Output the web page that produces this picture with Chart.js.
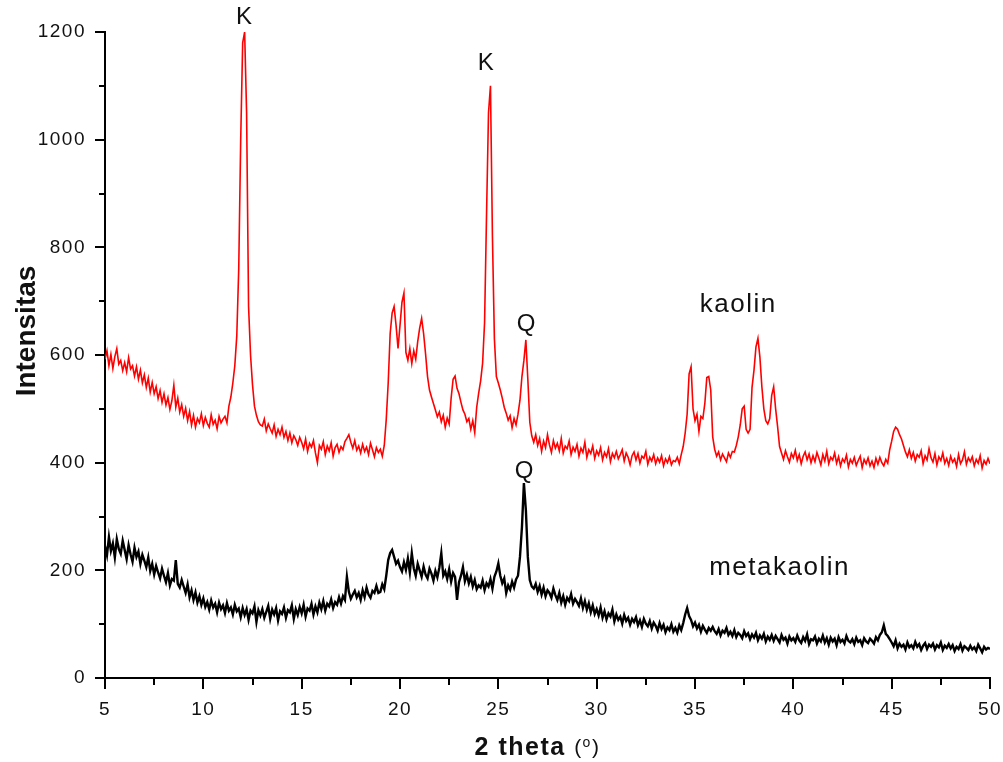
<!DOCTYPE html>
<html>
<head>
<meta charset="utf-8">
<script src="https://cdn.jsdelivr.net/npm/chart.js@4.4.1/dist/chart.umd.min.js"></script>
<style>
  html, body { margin: 0; padding: 0; background: #fff; }
  #wrap { width: 1003px; height: 762px; }
</style>
</head>
<body>
<div id="wrap"><canvas id="xrd" width="1003" height="762"></canvas></div>
<script>
// --- DATA ---
// sampling grid of the scan (2 theta, degrees)
const THETA_START = 5;
const THETA_STEP = 0.1;

// kaolin intensities, one row per degree (x.0 .. x.9)
const kaolin = [
  592, 608, 580, 601, 575, 597, 612, 583, 590, 571, // 5
  586, 569, 595, 574, 580, 561, 578, 555, 572, 548, // 6
  563, 540, 557, 531, 549, 528, 541, 519, 534, 512, // 7
  528, 507, 521, 499, 515, 544, 503, 520, 494, 508, // 8
  486, 501, 478, 495, 470, 488, 466, 482, 474, 491, // 9
  469, 484, 473, 466, 489, 471, 479, 463, 486, 474, // 10
  481, 486, 474, 505, 522, 548, 580, 635, 760, 1000, // 11
  1180, 1200, 1050, 690, 600, 545, 505, 488, 476, 470, // 12
  468, 481, 459, 472, 463, 455, 470, 449, 462, 452, // 13
  466, 447, 458, 441, 455, 437, 450, 443, 432, 447, // 14
  438, 426, 444, 421, 436, 429, 441, 418, 400, 432, // 15
  425, 439, 415, 431, 422, 437, 412, 428, 434, 419, // 16
  430, 424, 439, 445, 452, 438, 427, 441, 423, 431, // 17
  418, 434, 421, 429, 415, 436, 424, 411, 428, 419, // 18
  425, 412, 432, 480, 548, 640, 678, 690, 655, 612, // 19
  655, 698, 715, 605, 590, 612, 584, 608, 592, 625, // 20
  650, 668, 640, 602, 560, 535, 522, 510, 498, 485, // 21
  494, 476, 488, 466, 483, 472, 520, 555, 561, 538, // 22
  528, 512, 498, 490, 476, 482, 462, 478, 456, 503, // 23
  529, 552, 585, 660, 860, 1050, 1100, 820, 630, 560, // 24
  548, 535, 520, 503, 492, 479, 487, 465, 482, 470, // 25
  490, 516, 560, 590, 628, 555, 475, 450, 438, 452, // 26
  432, 445, 421, 440, 428, 452, 433, 419, 441, 427, // 27
  436, 422, 445, 418, 431, 426, 440, 415, 429, 421, // 28
  434, 412, 427, 419, 438, 410, 424, 417, 431, 408, // 29
  422, 414, 428, 405, 419, 411, 426, 402, 417, 409, // 30
  421, 407, 415, 424, 403, 418, 410, 396, 413, 420, // 31
  405, 417, 399, 412, 408, 421, 397, 410, 403, 415, // 32
  398, 409, 401, 413, 394, 407, 400, 411, 396, 404, // 33
  402, 410, 398, 415, 430, 455, 490, 565, 578, 500, // 34
  478, 490, 458, 486, 482, 510, 558, 560, 535, 448, // 35
  425, 412, 420, 405, 416, 409, 402, 418, 410, 421, // 36
  420, 432, 448, 470, 500, 505, 462, 455, 462, 540, // 37
  572, 615, 631, 596, 541, 500, 478, 472, 482, 525, // 38
  541, 500, 467, 430, 418, 406, 422, 411, 401, 417, // 39
  409, 423, 404, 415, 398, 412, 420, 405, 416, 400, // 40
  413, 402, 419, 408, 396, 415, 403, 421, 398, 410, // 41
  405, 418, 399, 411, 394, 407, 401, 414, 392, 406, // 42
  399, 410, 395, 404, 412, 391, 406, 398, 409, 394, // 43
  403, 391, 408, 397, 410, 400, 394, 406, 399, 424, // 44
  440, 458, 466, 462, 452, 444, 432, 420, 411, 424, // 45
  408, 419, 403, 415, 410, 422, 398, 413, 405, 426, // 46
  409, 401, 417, 396, 411, 404, 418, 399, 408, 395, // 47
  412, 401, 407, 393, 415, 398, 405, 420, 397, 409, // 48
  402, 411, 394, 406, 399, 413, 390, 404, 397, 408, // 49
  398                                               // 50
];

// metakaolin intensities, same grid
const metakaolin = [
  245, 228, 262, 236, 250, 224, 258, 240, 231, 255, // 5
  238, 221, 247, 230, 216, 242, 225, 235, 212, 229, // 6
  218, 206, 224, 199, 212, 192, 208, 196, 185, 203, // 7
  190, 178, 195, 172, 184, 181, 219, 175, 168, 182, // 8
  170, 158, 174, 150, 163, 145, 159, 140, 152, 136, // 9
  148, 132, 141, 127, 144, 131, 138, 122, 140, 128, // 10
  135, 121, 139, 125, 131, 118, 136, 124, 129, 113, // 11
  130, 117, 128, 108, 125, 120, 133, 104, 126, 116, // 12
  128, 112, 123, 134, 110, 127, 118, 130, 107, 124, // 13
  119, 131, 112, 126, 122, 135, 110, 128, 117, 132, // 14
  120, 136, 114, 129, 125, 138, 118, 133, 122, 140, // 15
  128, 143, 125, 138, 133, 146, 130, 141, 136, 150, // 16
  138, 152, 145, 188, 160, 147, 155, 162, 150, 158, // 17
  145, 163, 150, 168, 155, 149, 162, 158, 171, 158, // 18
  160, 174, 165, 190, 219, 232, 238, 225, 212, 218, // 19
  206, 198, 215, 201, 222, 196, 232, 204, 190, 212, // 20
  200, 188, 207, 192, 185, 203, 194, 181, 199, 187, // 21
  205, 232, 190, 198, 184, 202, 179, 195, 188, 145, // 22
  178, 190, 206, 180, 192, 176, 188, 170, 182, 165, // 23
  172, 168, 181, 163, 176, 170, 184, 166, 188, 198, // 24
  213, 190, 176, 185, 158, 172, 164, 179, 168, 183, // 25
  190, 225, 280, 362, 312, 225, 182, 170, 166, 175, // 26
  160, 171, 155, 168, 152, 163, 158, 149, 166, 154, // 27
  145, 158, 140, 152, 136, 149, 143, 156, 138, 147, // 28
  141, 134, 148, 130, 143, 127, 139, 122, 135, 119, // 29
  128, 116, 131, 112, 124, 109, 120, 114, 127, 105, // 30
  118, 108, 114, 101, 117, 106, 112, 99, 110, 104,  // 31
  113, 98, 107, 95, 110, 101, 96, 106, 92, 103,     // 32
  97, 88, 102, 91, 99, 85, 94, 89, 100, 86,         // 33
  93, 84, 98, 89, 102, 118, 130, 115, 108, 96,      // 34
  103, 92, 99, 86, 97, 90, 84, 93, 88, 95,          // 35
  87, 82, 91, 79, 88, 84, 93, 80, 86, 78,           // 36
  89, 76, 84, 80, 74, 87, 78, 83, 72, 81,           // 37
  75, 84, 70, 79, 73, 82, 68, 77, 71, 80,           // 38
  69, 78, 72, 66, 80, 71, 75, 64, 77, 70,           // 39
  74, 67, 79, 70, 65, 76, 69, 81, 63, 72,           // 40
  70, 77, 64, 73, 68, 79, 66, 74, 62, 75,           // 41
  68, 73, 61, 76, 67, 71, 64, 78, 69, 66,           // 42
  72, 63, 75, 67, 70, 61, 74, 68, 65, 73,           // 43
  69, 64, 76, 70, 80, 85, 98, 82, 78, 72,           // 44
  66, 59, 70, 55, 64, 58, 62, 53, 66, 57,           // 45
  61, 55, 67, 58, 63, 52, 60, 65, 54, 62,           // 46
  58, 64, 53, 61, 57, 66, 52, 60, 56, 63,           // 47
  55, 61, 50, 58, 54, 63, 51, 59, 56, 52,           // 48
  60, 53, 57, 50, 62, 55, 48, 58, 53, 56,           // 49
  54                                                // 50
];

// axis ranges and tick steps
const xRange = [5, 50];
const yRange = [0, 1200];
const xMajorStep = 5, xMinorStep = 2.5;
const yMajorStep = 200, yMinorStep = 100;

// peak markers and curve names, in data coordinates
const peakMarks = [
  { text: 'K', x: 12.1, y: 1228 },
  { text: 'K', x: 24.4, y: 1142 },
  { text: 'Q', x: 26.45, y: 656 },
  { text: 'Q', x: 26.35, y: 384 }
];
const curveNames = [
  { text: 'kaolin', x: 37.2, y: 693 },
  { text: 'metakaolin', x: 39.3, y: 205 }
];

// --- HELPERS ---
const toPoints = (values) => values.map((v, i) => ({ x: +(THETA_START + i * THETA_STEP).toFixed(2), y: v }));

const FONT = "'Liberation Sans', Arial, sans-serif";
const SPACING = '1.5px';

// tick marks (major long, minor short), drawn outward from both axes
const axisTicks = {
  id: 'axisTicks',
  afterDraw(chart) {
    const { ctx, chartArea, scales: { x, y } } = chart;
    ctx.save();
    ctx.strokeStyle = '#000';
    ctx.lineWidth = 2;
    ctx.beginPath();
    for (let v = yRange[0]; v <= yRange[1]; v += yMinorStep) {
      const py = Math.round(y.getPixelForValue(v));
      const len = v % yMajorStep === 0 ? 10 : 6;
      ctx.moveTo(chartArea.left - len, py);
      ctx.lineTo(chartArea.left, py);
    }
    for (let v = xRange[0]; v <= xRange[1]; v += xMinorStep) {
      const px = Math.round(x.getPixelForValue(v));
      const len = (v - xRange[0]) % xMajorStep === 0 ? 11 : 7;
      ctx.moveTo(px, chartArea.bottom);
      ctx.lineTo(px, chartArea.bottom + len);
    }
    ctx.stroke();
    ctx.restore();
  }
};

// labels: K / Q markers, curve names and the two axis titles
const chartText = {
  id: 'chartText',
  beforeUpdate(chart) { chart.ctx.letterSpacing = SPACING; },
  beforeDraw(chart) { chart.ctx.letterSpacing = SPACING; },
  afterDraw(chart) {
    const { ctx, scales: { x, y } } = chart;
    ctx.save();
    ctx.fillStyle = '#111';
    ctx.textAlign = 'center';
    ctx.textBaseline = 'middle';
    ctx.letterSpacing = SPACING;

    ctx.font = `24px ${FONT}`;
    peakMarks.forEach(m => ctx.fillText(m.text, x.getPixelForValue(m.x), y.getPixelForValue(m.y)));
    ctx.font = `26px ${FONT}`;
    curveNames.forEach(m => ctx.fillText(m.text, x.getPixelForValue(m.x), y.getPixelForValue(m.y)));

    // x title: "2 theta (o)" with raised small o
    ctx.textAlign = 'left';
    ctx.textBaseline = 'alphabetic';
    const bold = `bold 25px ${FONT}`, paren = `21px ${FONT}`, sup = `14px ${FONT}`;
    ctx.font = bold; const w1 = ctx.measureText('2 theta ').width;
    ctx.font = paren; const wp = ctx.measureText('(').width;
    ctx.font = sup; const wo = ctx.measureText('o').width;
    const total = w1 + wp * 2 + wo;
    let cx = (chart.chartArea.left + chart.chartArea.right) / 2 - total / 2 - 10;
    const base = 755;
    ctx.font = bold; ctx.fillText('2 theta ', cx, base); cx += w1;
    ctx.font = paren; ctx.fillText('(', cx, base - 1); cx += wp;
    ctx.font = sup; ctx.fillText('o', cx, base - 8); cx += wo;
    ctx.font = paren; ctx.fillText(')', cx, base - 1);

    // y title
    ctx.letterSpacing = '0px';
    ctx.font = `bold 28px ${FONT}`;
    ctx.textAlign = 'center';
    ctx.translate(35, 331);
    ctx.rotate(-Math.PI / 2);
    ctx.fillText('Intensitas', 0, 0);
    ctx.restore();
  }
};

// --- CHART ---
new Chart(document.getElementById('xrd'), {
  type: 'line',
  data: {
    datasets: [
      {
        label: 'metakaolin',
        data: toPoints(metakaolin),
        borderColor: '#000000',
        borderWidth: 2.4,
        pointRadius: 0,
        tension: 0
      },
      {
        label: 'kaolin',
        data: toPoints(kaolin),
        borderColor: '#ff0000',
        borderWidth: 1.6,
        pointRadius: 0,
        tension: 0
      }
    ]
  },
  options: {
    responsive: false,
    animation: false,
    devicePixelRatio: 1,
    layout: { padding: { top: 32, right: 13, left: 0, bottom: 0 } },
    plugins: { legend: { display: false }, tooltip: { enabled: false } },
    scales: {
      x: {
        type: 'linear',
        min: xRange[0],
        max: xRange[1],
        grid: { display: false },
        border: { display: true, color: '#000', width: 2 },
        ticks: {
          stepSize: xMajorStep,
          padding: 12,
          color: '#111',
          font: { family: FONT, size: 19 },
          maxRotation: 0,
          callback: (v) => String(v)
        },
        afterFit(scale) {
          scale.height = 84;
          scale.paddingLeft = 0;
          scale.paddingRight = 0;
        }
      },
      y: {
        min: yRange[0],
        max: yRange[1],
        grid: { display: false },
        border: { display: true, color: '#000', width: 2 },
        ticks: {
          stepSize: yMajorStep,
          padding: 11,
          color: '#111',
          font: { family: FONT, size: 19 },
          callback: (v) => String(v)
        },
        afterFit(scale) {
          scale.width = 105;
          scale.paddingTop = 0;
          scale.paddingBottom = 0;
        }
      }
    }
  },
  plugins: [axisTicks, chartText]
});
</script>
</body>
</html>
